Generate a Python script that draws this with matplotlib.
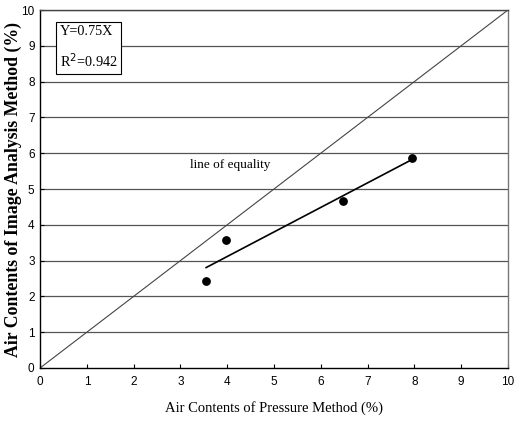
import numpy as np
import matplotlib.pyplot as plt

pressure = [3.55, 3.98, 6.48, 7.96]
image = [2.43, 3.57, 4.67, 5.88]
equality = [0, 10]
ticks = list(range(0, 11))

fig = plt.figure(figsize=(5.14, 4.21), dpi=100)
ax = fig.add_axes([0.078, 0.126, 0.910, 0.850])

# horizontal grid lines
for t in ticks[1:]:
    ax.axhline(t, color='#555555', lw=0.9, zorder=0)

# line of equality
ax.plot(equality, equality, color='#444444', lw=0.8, zorder=1)

# regression line through the data
slope, icpt = np.polyfit(pressure, image, 1)
xf = np.array([min(pressure), 7.9])
ax.plot(xf, slope * xf + icpt, color='black', lw=1.2, zorder=2)

ax.scatter(pressure, image, s=28, color='black', zorder=3)

ax.text(3.2, 5.67, 'line of equality', family='Liberation Serif', fontsize=9.5,
        va='center', ha='left')
ax.text(0.42, 9.58, 'Y=0.75X\nR$^2$=0.942', family='Liberation Serif', fontsize=10.3,
        va='top', ha='left', linespacing=1.85,
        bbox=dict(boxstyle='square,pad=0.25', fc='white', ec='black', lw=0.8))

ax.set_xlim(0, 10)
ax.set_ylim(0, 10)
ax.set_xticks(ticks)
ax.set_yticks(ticks)
ax.tick_params(direction='in', length=3, labelsize=8.5, pad=6)
ax.tick_params(axis='y', pad=4)
for lab in ax.get_xticklabels() + ax.get_yticklabels():
    lab.set_family('Liberation Sans')
for s in ax.spines.values():
    s.set_linewidth(1.0)
ax.spines['right'].set_color('#777777')
ax.spines['top'].set_color('#444444')

ax.set_xlabel('Air Contents of Pressure Method (%)', family='Liberation Serif',
              fontsize=10.5, labelpad=9)
ax.set_ylabel('Air Contents of Image Analysis Method (%)', family='Liberation Serif',
              fontsize=12.8, fontweight='bold')
ax.yaxis.set_label_coords(-0.038, 0.5)

fig.savefig('out.png', dpi=100)
